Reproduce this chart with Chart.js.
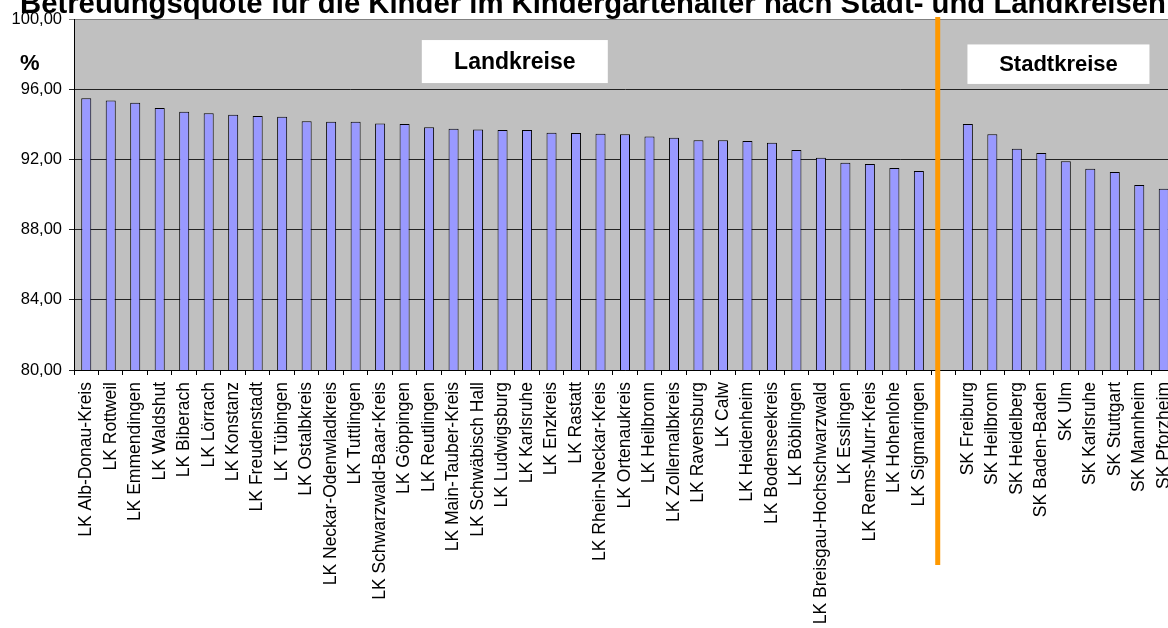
<!DOCTYPE html>
<html>
<head>
<meta charset="utf-8">
<script src="https://cdn.jsdelivr.net/npm/chart.js@4.4.0/dist/chart.umd.min.js"></script>
<style>
  html, body { margin: 0; padding: 0; background: #fff; overflow: hidden; }
  #quoteChart { position: absolute; left: 0; top: 0; }
</style>
</head>
<body>
<canvas id="quoteChart" width="1176" height="628"></canvas>
<script>
// Betreuungsquote Kindergartenalter, Landkreise + Stadtkreise
const landkreise = [
  'LK Alb-Donau-Kreis', 'LK Rottweil', 'LK Emmendingen', 'LK Waldshut', 'LK Biberach',
  'LK Lörrach', 'LK Konstanz', 'LK Freudenstadt', 'LK Tübingen', 'LK Ostalbkreis',
  'LK Neckar-Odenwladkreis', 'LK Tuttlingen', 'LK Schwarzwald-Baar-Kreis', 'LK Göppingen', 'LK Reutlingen',
  'LK Main-Tauber-Kreis', 'LK Schwäbisch Hall', 'LK Ludwigsburg', 'LK Karlsruhe', 'LK Enzkreis',
  'LK Rastatt', 'LK Rhein-Neckar-Kreis', 'LK Ortenaukreis', 'LK Heilbronn', 'LK Zollernalbkreis',
  'LK Ravensburg', 'LK Calw', 'LK Heidenheim', 'LK Bodenseekreis', 'LK Böblingen',
  'LK Breisgau-Hochschwarzwald', 'LK Esslingen', 'LK Rems-Murr-Kreis', 'LK Hohenlohe', 'LK Sigmaringen'
];
const landkreisWerte = [
  95.48, 95.35, 95.23, 94.93, 94.72, 94.63, 94.55, 94.47, 94.43, 94.17,
  94.15, 94.15, 94.04, 94.02, 93.83, 93.75, 93.71, 93.68, 93.68, 93.52,
  93.50, 93.46, 93.43, 93.31, 93.24, 93.09, 93.09, 93.05, 92.95, 92.54,
  92.10, 91.81, 91.74, 91.51, 91.34
];
const stadtkreise = [
  'SK Freiburg', 'SK Heilbronn', 'SK Heidelberg', 'SK Baden-Baden', 'SK Ulm',
  'SK Karlsruhe', 'SK Stuttgart', 'SK Mannheim', 'SK Pforzheim'
];
const stadtkreisWerte = [94.02, 93.43, 92.61, 92.36, 91.89, 91.47, 91.28, 90.54, 90.33];
const yTicks = [80, 84, 88, 92, 96, 100];

// one empty slot between the two groups (where the orange divider sits)
const labels = [...landkreise, '', ...stadtkreise];
const values = [...landkreisWerte, null, ...stadtkreisWerte];

const FONT = '"Liberation Sans", Arial, sans-serif';

const extras = {
  id: 'extras',
  beforeDraw(chart) {
    const { ctx, chartArea } = chart;
    ctx.save();
    ctx.fillStyle = '#c0c0c0';
    ctx.fillRect(chartArea.left, chartArea.top, chartArea.right - chartArea.left, chartArea.bottom - chartArea.top);
    ctx.restore();
  },
  afterDraw(chart) {
    const { ctx, scales } = chart;
    const x = scales.x, y = scales.y;
    const step = x.getPixelForValue(1) - x.getPixelForValue(0);
    ctx.save();
    // title (clipped at top like the source)
    ctx.fillStyle = '#000';
    ctx.font = 'bold 29.3px ' + FONT;
    ctx.textBaseline = 'alphabetic';
    ctx.textAlign = 'left';
    ctx.fillText('Betreuungsquote für die Kinder im Kindergartenalter nach Stadt- und Landkreisen', 20, 13);
    // unit label
    ctx.font = 'bold 22px ' + FONT;
    ctx.fillText('%', 20, 70);
    // group boxes
    const box = (text, cIdx, halfW, vTop, vBot, size) => {
      const cx = x.getPixelForValue(0) + cIdx * step;
      const top = y.getPixelForValue(vTop), bot = y.getPixelForValue(vBot);
      ctx.fillStyle = '#fff';
      ctx.fillRect(cx - halfW, top, halfW * 2, bot - top);
      ctx.fillStyle = '#000';
      ctx.font = 'bold ' + size + 'px ' + FONT;
      ctx.textAlign = 'center';
      ctx.textBaseline = 'middle';
      ctx.fillText(text, cx, (top + bot) / 2 + 1);
    };
    box('Landkreise', 17.5, 93, 98.8, 96.35, 23);
    box('Stadtkreise', 39.7, 91, 98.55, 96.3, 22);
    // orange divider
    const dx = x.getPixelForValue(35) - 0.23 * step;
    ctx.strokeStyle = '#ff9900';
    ctx.lineWidth = 5;
    ctx.beginPath();
    ctx.moveTo(dx, y.getPixelForValue(100) - 2);
    ctx.lineTo(dx, 565);
    ctx.stroke();
    ctx.restore();
  }
};

new Chart(document.getElementById('quoteChart').getContext('2d'), {
  type: 'bar',
  data: {
    labels: labels,
    datasets: [{
      label: 'Betreuungsquote',
      data: values,
      backgroundColor: '#9999ff',
      borderColor: '#000',
      borderWidth: 1,
      categoryPercentage: 1,
      barPercentage: 0.41
    }]
  },
  options: {
    responsive: false,
    animation: false,
    devicePixelRatio: 1,
    layout: { padding: { top: 19, left: 0, right: 0, bottom: 0 } },
    plugins: { legend: { display: false }, tooltip: { enabled: false }, title: { display: false } },
    scales: {
      x: {
        offset: true,
        grid: { display: true, drawOnChartArea: false, offset: true, tickLength: 5, color: '#000' },
        border: { display: true, color: '#000', width: 1 },
        ticks: {
          autoSkip: false, minRotation: 90, maxRotation: 90, padding: 7,
          color: '#000', font: { family: FONT, size: 17.5 }
        },
        afterFit(s) { s.height = 258; s.paddingLeft = 0; s.paddingRight = 0; }
      },
      y: {
        min: 80, max: 100,
        afterBuildTicks(s) { s.ticks = yTicks.map(v => ({ value: v })); },
        grid: {
          color: c => (c.tick && c.tick.value === 100) ? '#808080' : '#222',
          tickLength: 5, lineWidth: 1
        },
        border: { display: true, color: '#000', width: 1 },
        ticks: {
          color: '#000', padding: 7,
          font: { family: FONT, size: 16.5 },
          callback: v => v.toFixed(2).replace('.', ',')
        },
        afterFit(s) { s.width = 74; s.paddingTop = 0; s.paddingBottom = 0; }
      }
    }
  },
  plugins: [extras]
});
</script>
</body>
</html>
